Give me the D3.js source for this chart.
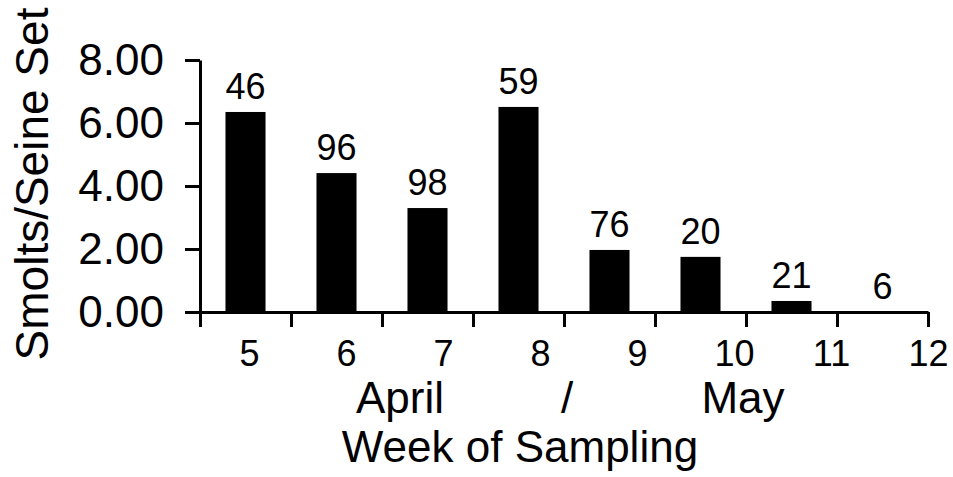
<!DOCTYPE html>
<html>
<head>
<meta charset="utf-8">
<title>Smolts per Seine Set</title>
<script src="https://d3js.org/d3.v7.min.js"></script>
<style>
  html, body { margin: 0; background: #fff; }
  svg { display: block; font-family: "Liberation Sans", Arial, sans-serif; }
  .domain { stroke: #000; stroke-width: 3px; }
  .tick line { stroke: #000; stroke-width: 3px; }
</style>
</head>
<body>
<svg width="953" height="477"></svg>
<script>
// weeks of sampling, smolts per seine set, number of sets (bar labels)
var weeks = ["5", "6", "7", "8", "9", "10", "11", "12"];
var smolts = [6.35, 4.41, 3.30, 6.51, 1.97, 1.75, 0.35, 0.0];
var sets = [46, 96, 98, 59, 76, 20, 21, 6];
var yTicks = [0, 2, 4, 6, 8];

var svg = d3.select("svg");
var plotL = 200, plotR = 928, plotT = 60, plotB = 312;

var x = d3.scaleBand().domain(weeks).range([plotL, plotR]).paddingInner(0.56).paddingOuter(0.28);
var y = d3.scaleLinear().domain([0, 8]).range([plotB, plotT]);
// tick marks sit on the band edges
var edge = d3.scaleLinear().domain([0, weeks.length]).range([plotL, plotR]);
// week labels are spread a bit to the right of the bands
var lab = d3.scalePoint().domain(weeks).range([249, 928]);

svg.selectAll("rect.bar")
  .data(smolts)
  .join("rect")
  .attr("class", "bar")
  .attr("x", (d, i) => x(weeks[i]))
  .attr("width", x.bandwidth())
  .attr("y", d => y(d))
  .attr("height", d => y(0) - y(d))
  .attr("fill", "#000");

svg.selectAll("text.count")
  .data(sets)
  .join("text")
  .attr("class", "count")
  .attr("x", (d, i) => x(weeks[i]) + x.bandwidth() / 2)
  .attr("y", (d, i) => y(smolts[i]) - 13)
  .attr("text-anchor", "middle")
  .attr("font-size", 36)
  .text(d => d);

// y axis
svg.append("g")
  .attr("transform", "translate(" + plotL + ",0)")
  .call(d3.axisLeft(y).tickValues(yTicks).tickSize(15).tickSizeOuter(0)
    .tickPadding(21).tickFormat(d3.format(".2f")))
  .call(g => g.selectAll("text").attr("font-size", 44).attr("fill", "#000")
    .attr("font-family", "Liberation Sans, Arial, sans-serif"));

// x axis with marks on band edges
svg.append("g")
  .attr("transform", "translate(0," + plotB + ")")
  .call(d3.axisBottom(edge).tickValues(d3.range(weeks.length + 1)).tickSize(15)
    .tickSizeOuter(0).tickFormat(""));

// week labels
svg.append("g")
  .attr("transform", "translate(0," + plotB + ")")
  .call(d3.axisBottom(lab).tickSize(0).tickPadding(28))
  .call(g => g.select(".domain").remove())
  .call(g => g.selectAll("text").attr("font-size", 36).attr("fill", "#000")
    .attr("font-family", "Liberation Sans, Arial, sans-serif"));

// month line and axis titles
var t = svg.append("g").attr("font-size", 44).attr("text-anchor", "middle");
t.append("text").attr("x", 400).attr("y", 413).text("April");
t.append("text").attr("x", 567).attr("y", 413).text("/");
t.append("text").attr("x", 743).attr("y", 413).text("May");
t.append("text").attr("x", 520).attr("y", 462).text("Week of Sampling");
t.append("text").attr("transform", "rotate(-90)").attr("x", -184).attr("y", 48)
  .attr("font-size", 46).text("Smolts/Seine Set");
</script>
</body>
</html>
